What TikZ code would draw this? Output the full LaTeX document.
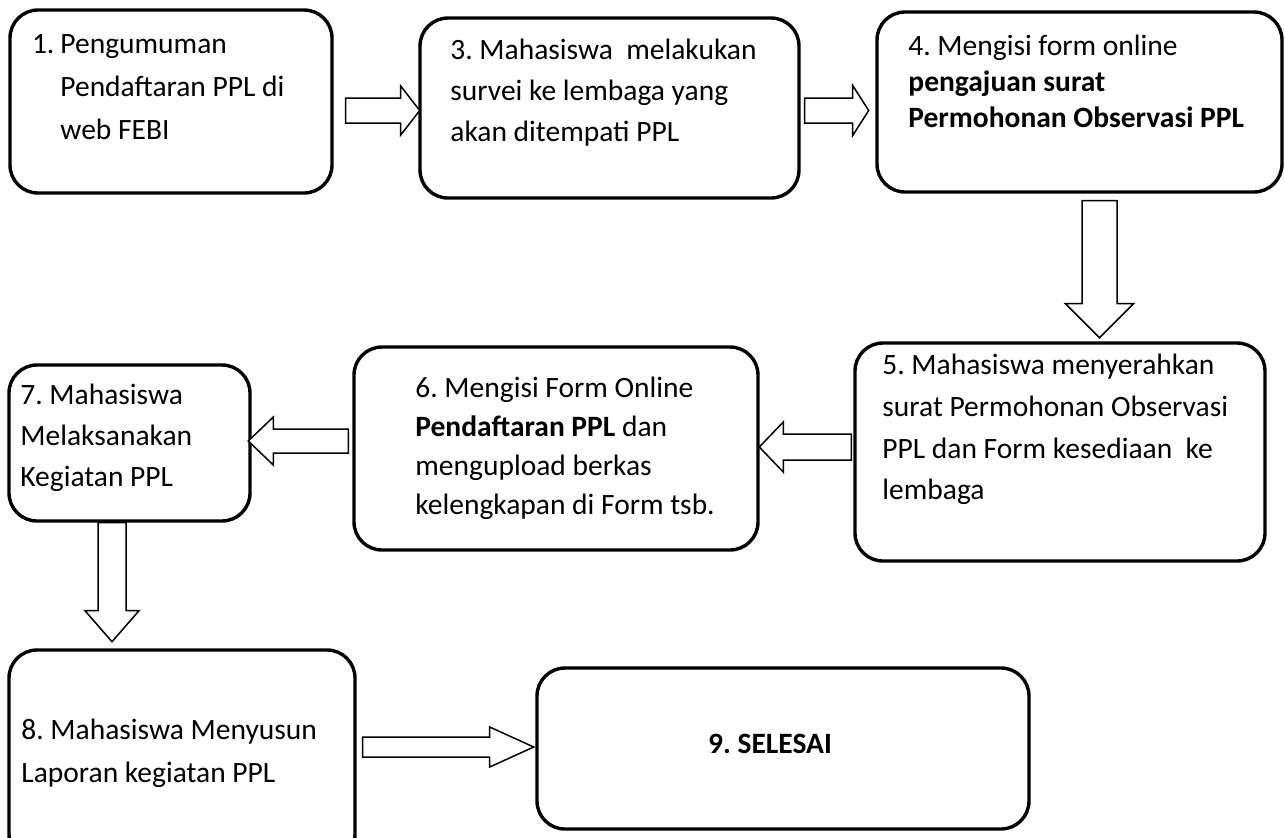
\documentclass[tikz,border=0pt]{standalone}
\usepackage{fontspec}
\setmainfont{Carlito}
\usepackage{tikz}
\usetikzlibrary{calc}
\frenchspacing
% hollow block arrows: tail, signed length, half shaft, half head, signed head length
\newcommand{\HArrow}[5]{\draw[Hollow] (#1) +(0,-#3) -- +({#2-(#5)},-#3) -- +({#2-(#5)},-#4) -- +(#2,0) -- +({#2-(#5)},#4) -- +({#2-(#5)},#3) -- +(0,#3) -- cycle}
\newcommand{\VArrow}[5]{\draw[Hollow] (#1) +(-#3,0) -- +(-#3,{#2-(#5)}) -- +(-#4,{#2-(#5)}) -- +(0,#2) -- +(#4,{#2-(#5)}) -- +(#3,{#2-(#5)}) -- +(#3,0) -- cycle}

\begin{document}
\begin{tikzpicture}[
x=0.5pt, y=-0.5pt,
StepBox/.style={draw, line width=1.7pt, rounded corners=14pt, inner sep=0pt},
StepText/.style={anchor=north west, align=left, inner sep=0pt,
  font=\fontsize{14.75}{#1}\selectfont, execute at begin node={\rule{0pt}{14pt}}},
StepText/.default=20.5,
Hollow/.style={draw, fill=white, line width=0.75pt, line join=miter}
]
\useasboundingbox (0,0) rectangle (1285,837);
\clip (0,0) rectangle (1285,837);

% first row
\node[StepBox, minimum width=161pt, minimum height=91.5pt] (b1) at (171,101.5) {};
\node[StepText=21.5] (t1) at (60,34) {\llap{1.\hspace{3pt}}Pengumuman\\Pendaftaran PPL di\\web FEBI};

\node[StepBox, minimum width=189.5pt, minimum height=90pt] (b3) at (609.5,108) {};
\node[StepText] (t3) at (450,39) {3. Mahasiswa\ \ melakukan\\survei ke lembaga yang\\akan ditempati PPL};

\node[StepBox, minimum width=202.5pt, minimum height=90pt] (b4) at (1079.5,102) {};
\node[StepText=17.8] (t4) at (908,35) {4. Mengisi form online\\\textbf{pengajuan surat}\\\textbf{Permohonan Observasi PPL}};

% second row
\node[StepBox, minimum width=205pt, minimum height=109pt] (b5) at (1060,452) {};
\node[StepText=20.8] (t5) at (882,354) {5. Mahasiswa menyerahkan\\surat Permohonan Observasi\\PPL dan Form kesediaan\ \ ke\\lembaga};

\node[StepBox, minimum width=202pt, minimum height=101.5pt] (b6) at (556,448.5) {};
\node[StepText=19.5] (t6) at (415,377) {6. Mengisi Form Online\\\textbf{Pendaftaran PPL} dan\\mengupload berkas\\kelengkapan di Form tsb.};

\node[StepBox, minimum width=120.5pt, minimum height=78pt] (b7) at (129.5,443) {};
\node[StepText] (t7) at (20,384) {7. Mahasiswa\\Melaksanakan\\Kegiatan PPL};

% last row
\node[StepBox, minimum width=173pt, minimum height=106pt] (b8) at (182,756) {};
\node[StepText=21.5] (t8) at (21,719) {8. Mahasiswa Menyusun\\Laporan kegiatan PPL};

\node[StepBox, minimum width=246pt, minimum height=80.5pt] (b9) at (783,748.5) {};
\node[font=\fontsize{14.75}{20.5}\selectfont\bfseries, anchor=base] (t9) at (770,753) {9. SELESAI};

% arrow tails
\coordinate (a13) at ($(b1.east)+(12,9)$);
\coordinate (a34) at ($(b3.east)+(4,2.5)$);
\coordinate (a45) at ($(b4.south)+(20,7)$);
\coordinate (a56) at ($(b5.west)+(-2,-5)$);
\coordinate (a67) at ($(b6.west)+(-4,-7.5)$);
\coordinate (a78) at ($(b7.south)+(-17.5,0)$);
\coordinate (a89) at ($(b8.east)+(6,-9)$);

\HArrow{a13}{74}{12.5}{24.5}{19};
\HArrow{a34}{64}{12.5}{25}{16};
\VArrow{a45}{137}{17.5}{34}{34};
\HArrow{a56}{-92}{13}{25}{-24};
\HArrow{a67}{-100}{12}{24}{-25};
\VArrow{a78}{119}{14}{27}{31};
\HArrow{a89}{171}{10}{20}{44};

\end{tikzpicture}
\end{document}
